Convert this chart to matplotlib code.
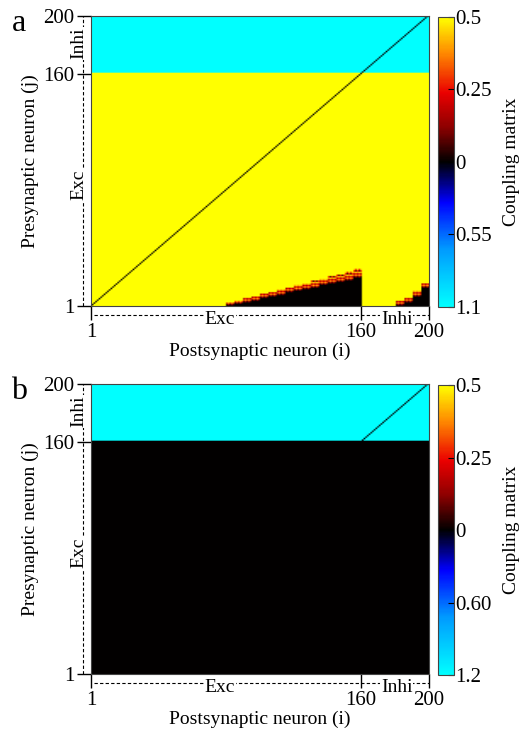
import numpy as np
import matplotlib
matplotlib.use("Agg")
from matplotlib import pyplot as plt
from matplotlib.colors import LinearSegmentedColormap, TwoSlopeNorm
from matplotlib import transforms

plt.rcParams['font.family'] = ['Liberation Serif', 'DejaVu Serif']
plt.rcParams['font.size'] = 13

N = 200          # neurons
N_exc = 160      # excitatory neurons (1..160), rest inhibitory

# coupling strengths
w_exc_a = 0.5
w_inh_a = -1.1
w_exc_b = 0.0
w_inh_b = -1.2

# panel a: black (zero) wedge at the bottom, per block of 5 postsynaptic columns
wedge_start_cols = [81, 86, 91, 96, 101, 106, 111, 116, 121, 126, 131, 136, 141, 146, 151, 156,
                    181, 186, 191, 196]
wedge_heights = [1, 2, 3, 4, 6, 7, 8, 10, 11, 12, 13, 15, 16, 17, 18, 20,
                 1, 3, 7, 13]
fringe_heights = [2, 2, 3, 3, 3, 3, 4, 3, 4, 4, 5, 4, 5, 5, 6, 6,
                  3, 3, 4, 3]
fringe_vals = [0.05, 0.3, 0.15, 0.4, 0.25, 0.45]

# colorbar ticks
cb_ticks_a = [-1.1, -0.55, 0, 0.25, 0.5]
cb_labels_a = ['1.1', '0.55', '0', '0.25', '0.5']
cb_ticks_b = [-1.2, -0.6, 0, 0.25, 0.5]
cb_labels_b = ['1.2', '0.60', '0', '0.25', '0.5']

# build matrices W[j-1, i-1]  (j presynaptic on y, i postsynaptic on x)
W_a = np.full((N, N), w_exc_a)
W_a[N_exc:, :] = w_inh_a
for c0, h, f in zip(wedge_start_cols, wedge_heights, fringe_heights):
    W_a[:h, c0 - 1:c0 + 4] = 0.0
    for k in range(f):
        # alternate columns so the edge looks ragged
        W_a[h + k, c0 - 1:c0 + 4:2] = fringe_vals[k]
        W_a[h + k, c0:c0 + 4:2] = fringe_vals[(k + 2) % len(fringe_vals)]
np.fill_diagonal(W_a, 0.0)

W_b = np.full((N, N), w_exc_b)
W_b[N_exc:, :] = w_inh_b
np.fill_diagonal(W_b, 0.0)

# colormap cyan -> blue -> black -> red -> yellow
cmap = LinearSegmentedColormap.from_list('coupling', [
    (0.0, (0.0, 1.0, 1.0)),
    (0.2, (0.0, 0.6, 1.0)),
    (0.36, (0.0, 0.0, 1.0)),
    (0.5, (0.0, 0.0, 0.0)),
    (0.62, (0.55, 0.0, 0.0)),
    (0.74, (0.92, 0.0, 0.0)),
    (0.88, (1.0, 0.55, 0.0)),
    (1.0, (1.0, 1.0, 0.0))])

fig = plt.figure(figsize=(5.22, 7.32), dpi=100)


def panel(rect, cbrect, W, vmin, ticks, labels, letter):
    ax = fig.add_axes(rect)
    norm = TwoSlopeNorm(vmin=vmin, vcenter=0.0, vmax=0.5)
    im = ax.imshow(W, origin='lower', cmap=cmap, norm=norm, aspect='auto',
                   interpolation='bilinear', interpolation_stage='rgba',
                   extent=(0.5, N + 0.5, 0.5, N + 0.5))
    ax.set_xlim(1, N)
    ax.set_ylim(1, N)
    ax.set_xticks([1, N_exc, N])
    ax.set_yticks([1, N_exc, N])
    ax.tick_params(direction='out', length=10, width=1, pad=2, labelsize=15)
    for s in ax.spines.values():
        s.set_color('#444444')
    ax.set_xlabel('Postsynaptic neuron (i)', fontsize=14, labelpad=1)
    ax.set_ylabel('Presynaptic neuron (j)', fontsize=14, labelpad=3)

    # dashed group brackets under x axis and left of y axis
    tx = transforms.blended_transform_factory(ax.transData, ax.transAxes)
    ty = transforms.blended_transform_factory(ax.transAxes, ax.transData)
    yb = -0.031
    xb = -0.024
    ax.plot([3, N], [yb, yb], transform=tx, ls='--', lw=0.8, color='k', clip_on=False, dashes=(3, 2))
    ax.plot([xb, xb], [1, N], transform=ty, ls='--', lw=0.8, color='k', clip_on=False, dashes=(3, 2))
    bb = dict(fc='white', ec='none', pad=0.5)
    ax.text(77, yb - 0.017, 'Exc', transform=tx, ha='center', va='center', fontsize=14, bbox=bb)
    ax.text(181, yb - 0.017, 'Inhi', transform=tx, ha='center', va='center', fontsize=14, bbox=bb)
    ax.text(xb - 0.012, 84, 'Exc', transform=ty, ha='center', va='center', rotation=90, fontsize=14, bbox=bb)
    ax.text(xb - 0.012, 181, 'Inhi', transform=ty, ha='center', va='center', rotation=90, fontsize=14, bbox=bb)

    fig.text(0.022, rect[1] + rect[3] - 0.01, letter, fontsize=23, ha='left', va='center')

    cax = fig.add_axes(cbrect)
    cb = fig.colorbar(im, cax=cax, ticks=ticks)
    cb.ax.set_yticklabels(labels)
    cb.ax.tick_params(direction='in', length=4, labelsize=15, pad=1)
    cb.outline.set_edgecolor('#444444')
    cb.set_label('Coupling matrix', fontsize=14, labelpad=8)
    return ax


panel([0.1743, 0.5820, 0.6475, 0.3962], [0.839, 0.5806, 0.0307, 0.3962],
      W_a, w_inh_a, cb_ticks_a, cb_labels_a, 'a')
panel([0.1743, 0.0792, 0.6475, 0.3962], [0.839, 0.0778, 0.0307, 0.3962],
      W_b, w_inh_b, cb_ticks_b, cb_labels_b, 'b')

fig.savefig('out.png', dpi=100)
